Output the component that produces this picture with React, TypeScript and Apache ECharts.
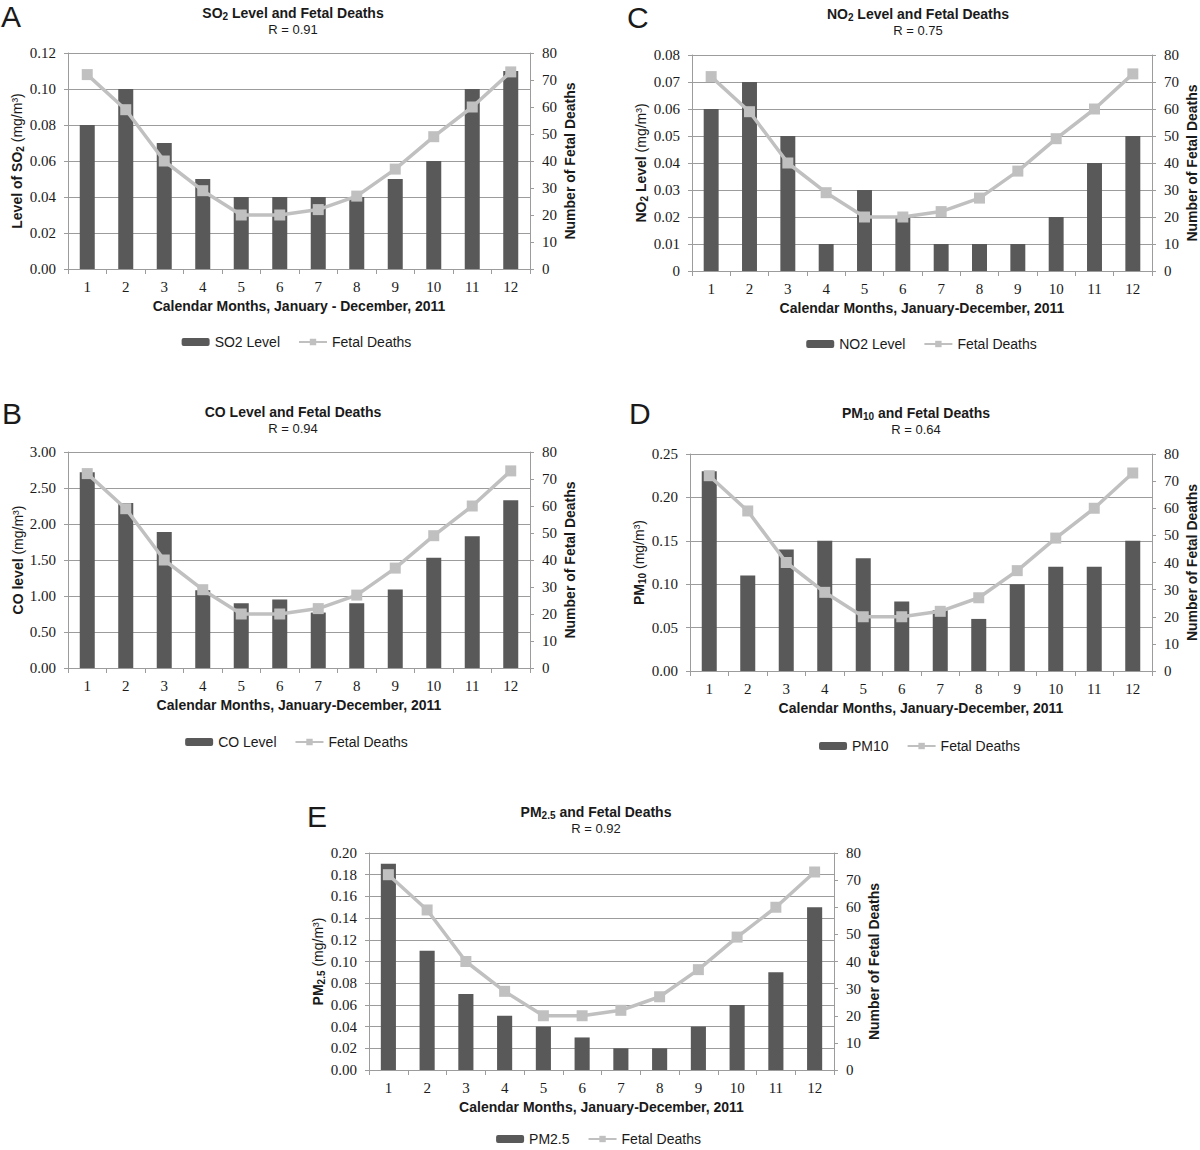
import React, { useEffect, useRef } from "react";
import * as echarts from "echarts";

// ---------- data ----------
const months = ["1", "2", "3", "4", "5", "6", "7", "8", "9", "10", "11", "12"];
const fetalDeaths = [72, 59, 40, 29, 20, 20, 22, 27, 37, 49, 60, 73];
const so2Level = [0.08, 0.1, 0.07, 0.05, 0.04, 0.04, 0.04, 0.04, 0.05, 0.06, 0.1, 0.11];
const coLevel = [2.72, 2.29, 1.89, 1.08, 0.9, 0.95, 0.77, 0.9, 1.09, 1.53, 1.83, 2.33];
const no2Level = [0.06, 0.07, 0.05, 0.01, 0.03, 0.02, 0.01, 0.01, 0.01, 0.02, 0.04, 0.05];
const pm10Level = [0.23, 0.11, 0.14, 0.15, 0.13, 0.08, 0.07, 0.06, 0.1, 0.12, 0.12, 0.15];
const pm25Level = [0.19, 0.11, 0.07, 0.05, 0.04, 0.03, 0.02, 0.02, 0.04, 0.06, 0.09, 0.15];
const rValues = ["0.91", "0.94", "0.75", "0.64", "0.92"];
const deathAxisMax = 80;
const deathAxisStep = 10;

// ---------- styles ----------
const SANS = '"Liberation Sans", Arial, sans-serif';
const SERIF = '"Liberation Serif", "Times New Roman", serif';
const TXT = "#1a1a1a";
const BAR = "#595959";
const LINE = "#c0c0c0";
const GRID = "#9c9c9c";

const rich = {
  b: { fontFamily: SANS, fontSize: 14, fontWeight: "bold", color: TXT, lineHeight: 17 },
  s: { fontFamily: SANS, fontSize: 10, fontWeight: "bold", color: TXT, lineHeight: 8, verticalAlign: "bottom" },
  n: { fontFamily: SANS, fontSize: 14, color: TXT, lineHeight: 17 },
};

type Panel = {
  letter: string;
  title: string;
  yName: string;
  xName: string;
  legendName: string;
  values: number[];
  yMax: number;
  yStep: number;
  zeroPlain: boolean;
  r: string;
  // layout
  gx: number; gy: number; gw: number; gh: number;
  lx: number; ly: number; // letter
  tx: number; ty: number; // title center
  lgx: number; lgy: number; // legend center
};

const panels: Panel[] = [
  {
    letter: "A", title: "{b|SO}{s|2}{b| Level and Fetal Deaths}", yName: "{b|Level of SO}{s|2}{n| (mg/m³)}",
    xName: "Calendar Months, January - December, 2011", legendName: "SO2 Level", values: so2Level,
    yMax: 0.12, yStep: 0.02, zeroPlain: false, r: rValues[0],
    gx: 68, gy: 53, gw: 462, gh: 216, lx: 1, ly: 16, tx: 293, ty: 13, lgx: 296, lgy: 343,
  },
  {
    letter: "B", title: "{b|CO Level and Fetal Deaths}", yName: "{b|CO level}{n| (mg/m³)}",
    xName: "Calendar Months, January-December, 2011", legendName: "CO Level", values: coLevel,
    yMax: 3, yStep: 0.5, zeroPlain: false, r: rValues[1],
    gx: 68, gy: 452, gw: 462, gh: 216, lx: 2, ly: 413, tx: 293, ty: 412, lgx: 296, lgy: 743,
  },
  {
    letter: "C", title: "{b|NO}{s|2}{b| Level and Fetal Deaths}", yName: "{b|NO}{s|2}{b| Level}{n| (mg/m³)}",
    xName: "Calendar Months, January-December, 2011", legendName: "NO2 Level", values: no2Level,
    yMax: 0.08, yStep: 0.01, zeroPlain: true, r: rValues[2],
    gx: 692, gy: 55, gw: 463, gh: 216, lx: 627, ly: 17, tx: 918, ty: 14, lgx: 921, lgy: 345,
  },
  {
    letter: "D", title: "{b|PM}{s|10}{b| and Fetal Deaths}", yName: "{b|PM}{s|10}{n| (mg/m³)}",
    xName: "Calendar Months, January-December, 2011", legendName: "PM10", values: pm10Level,
    yMax: 0.25, yStep: 0.05, zeroPlain: false, r: rValues[3],
    gx: 690, gy: 454, gw: 464, gh: 217, lx: 629, ly: 413, tx: 916, ty: 413, lgx: 919, lgy: 747,
  },
  {
    letter: "E", title: "{b|PM}{s|2.5}{b| and Fetal Deaths}", yName: "{b|PM}{s|2.5}{n| (mg/m³)}",
    xName: "Calendar Months, January-December, 2011", legendName: "PM2.5", values: pm25Level,
    yMax: 0.2, yStep: 0.02, zeroPlain: false, r: rValues[4],
    gx: 369, gy: 853, gw: 465, gh: 217, lx: 307, ly: 816, tx: 596, ty: 812, lgx: 598, lgy: 1140,
  },
];

const LEG_FONT = 14;
const LEG_ICON_W = 28;
const LEG_ICON_H = 8;
const LEG_GAP = 18;

function measure(text: string): number {
  const c = document.createElement("canvas").getContext("2d");
  if (!c) return text.length * 7;
  c.font = `${LEG_FONT}px "Liberation Sans", Arial, sans-serif`;
  return c.measureText(text).width;
}

function buildOption() {
  const grid: any[] = [];
  const xAxis: any[] = [];
  const yAxis: any[] = [];
  const series: any[] = [];
  const legend: any[] = [];
  const graphic: any[] = [];

  panels.forEach((p, i) => {
    grid.push({ left: p.gx, top: p.gy, width: p.gw, height: p.gh, containLabel: false });
    xAxis.push({
      type: "category",
      gridIndex: i,
      data: months,
      boundaryGap: true,
      axisLine: { show: true, lineStyle: { color: GRID, width: 1 } },
      axisTick: { show: true, alignWithLabel: false, length: 5, lineStyle: { color: GRID } },
      axisLabel: { fontFamily: SERIF, fontSize: 15, color: TXT, margin: 10 },
      name: p.xName,
      nameLocation: "middle",
      nameGap: 30,
      nameTextStyle: { fontFamily: SANS, fontSize: 14, fontWeight: "bold", color: TXT },
    });
    yAxis.push({
      type: "value",
      gridIndex: i,
      position: "left",
      min: 0,
      max: p.yMax,
      interval: p.yStep,
      axisLine: { show: true, lineStyle: { color: GRID } },
      axisTick: { show: true, length: 4, lineStyle: { color: GRID } },
      splitLine: { show: true, lineStyle: { color: GRID, width: 1 } },
      axisLabel: {
        fontFamily: SERIF, fontSize: 15, color: TXT, margin: 12,
        formatter: (v: number) => (p.zeroPlain && v === 0 ? "0" : v.toFixed(2)),
      },
      name: p.yName,
      nameLocation: "middle",
      nameGap: 42,
      nameTextStyle: { fontFamily: SANS, fontSize: 14, color: TXT, rich },
    });
    yAxis.push({
      type: "value",
      gridIndex: i,
      position: "right",
      min: 0,
      max: deathAxisMax,
      interval: deathAxisStep,
      axisLine: { show: true, lineStyle: { color: GRID } },
      axisTick: { show: true, length: 4, lineStyle: { color: GRID } },
      splitLine: { show: false },
      axisLabel: { fontFamily: SERIF, fontSize: 15, color: TXT, margin: 12 },
      name: "Number of Fetal Deaths",
      nameLocation: "middle",
      nameGap: 33,
      nameTextStyle: { fontFamily: SANS, fontSize: 14, fontWeight: "bold", color: TXT },
    });
    series.push({
      type: "bar",
      name: p.legendName,
      xAxisIndex: i,
      yAxisIndex: 2 * i,
      data: p.values,
      barWidth: "39%",
      itemStyle: { color: BAR },
    });
    series.push({
      type: "line",
      name: "Fetal Deaths",
      xAxisIndex: i,
      yAxisIndex: 2 * i + 1,
      data: fetalDeaths,
      symbol: "rect",
      symbolSize: 11,
      lineStyle: { color: LINE, width: 3.5 },
      itemStyle: { color: LINE },
    });

    const w =
      LEG_ICON_W + 5 + measure(p.legendName) + LEG_GAP + LEG_ICON_W + 5 + measure("Fetal Deaths");
    legend.push({
      data: [p.legendName, "Fetal Deaths"],
      left: p.lgx - w / 2,
      top: p.lgy - 8,
      itemWidth: LEG_ICON_W,
      itemHeight: LEG_ICON_H,
      itemGap: LEG_GAP,
      selectedMode: false,
      padding: 0,
      textStyle: { fontFamily: SANS, fontSize: LEG_FONT, color: TXT },
    });

    graphic.push({
      type: "text",
      x: p.lx,
      y: p.ly,
      style: {
        text: p.letter,
        fontFamily: SANS,
        fontSize: 30,
        fill: TXT,
        align: "left",
        verticalAlign: "middle",
        textAlign: "left",
        textVerticalAlign: "middle",
      },
    });
    graphic.push({
      type: "text",
      x: p.tx,
      y: p.ty,
      style: {
        text: p.title,
        rich,
        fill: TXT,
        align: "center",
        verticalAlign: "middle",
        textAlign: "center",
        textVerticalAlign: "middle",
      },
    });
    graphic.push({
      type: "text",
      x: p.tx,
      y: p.ty + 16,
      style: {
        text: `R = ${p.r}`,
        fontFamily: SANS,
        fontSize: 13,
        fill: TXT,
        align: "center",
        verticalAlign: "middle",
        textAlign: "center",
        textVerticalAlign: "middle",
      },
    });
  });

  return {
    animation: false,
    backgroundColor: "#ffffff",
    grid,
    xAxis,
    yAxis,
    series,
    legend,
    graphic,
  };
}

export default function App() {
  const ref = useRef<HTMLDivElement>(null);
  useEffect(() => {
    if (!ref.current) return;
    const chart = echarts.init(ref.current, undefined, { renderer: "svg" });
    chart.setOption(buildOption() as any);
    return () => chart.dispose();
  }, []);
  return (
    <div
      ref={ref}
      style={{ position: "absolute", left: 0, top: 0, width: 1200, height: 1150, background: "#fff" }}
    />
  );
}
